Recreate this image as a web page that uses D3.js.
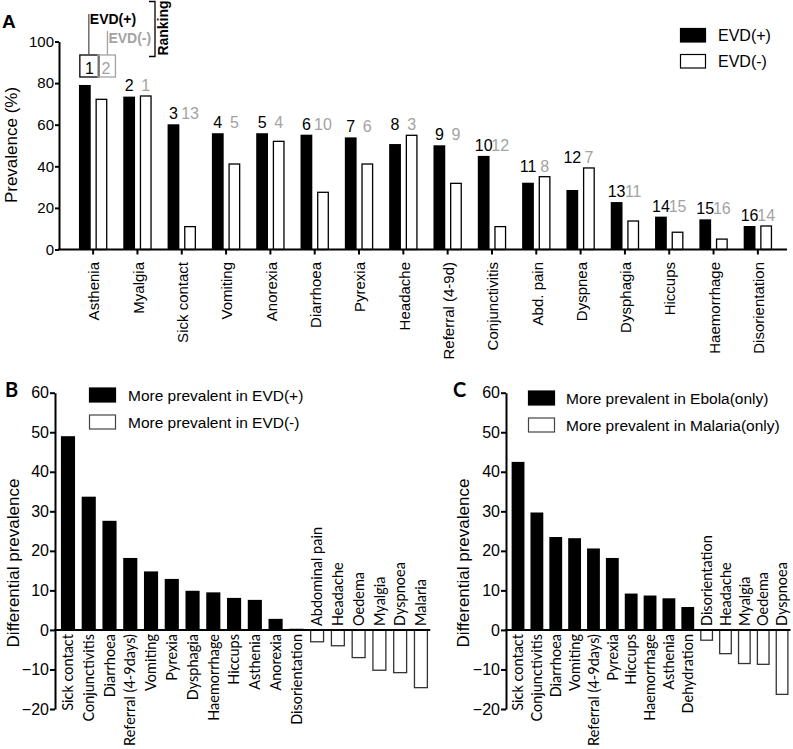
<!DOCTYPE html>
<html><head><meta charset="utf-8">
<script src="https://cdn.jsdelivr.net/npm/d3@7/dist/d3.min.js"></script>
<style>
body{margin:0;background:#fff;}
svg{display:block;}
text{font-family:"Liberation Sans",Arial,sans-serif;}
.cal{font-family:Lato,"Liberation Sans",sans-serif;}
</style></head>
<body><svg id="c" width="793" height="749"></svg>
<script>
// ---------- DATA ----------
const catsA = ["Asthenia","Myalgia","Sick contact","Vomiting","Anorexia","Diarrhoea","Pyrexia","Headache","Referral (4-9d)","Conjunctivitis","Abd. pain","Dyspnea","Dysphagia","Hiccups","Haemorrhage","Disorientation"];
const evdPos = [79.1,73.5,60.2,55.9,55.9,55.2,53.9,50.7,50.1,45.0,32.1,28.6,22.8,15.8,14.5,11.3];
const evdNeg = [72.2,73.8,11.0,41.1,52.0,27.5,41.1,54.9,31.8,11.0,35.0,39.2,13.7,8.3,5.0,11.3];
const rankPos = [1,2,3,4,5,6,7,8,9,10,11,12,13,14,15,16];
const rankNeg = [2,1,13,5,4,10,6,3,9,12,8,7,11,15,16,14];
const seriesA = ["EVD(+)","EVD(-)"];
const yTicksA = [0,20,40,60,80,100];

const catsB = ["Sick contact","Conjunctivitis","Diarrhoea","Referral (4-9days)","Vomiting","Pyrexia","Dysphagia","Haemorrhage","Hiccups","Asthenia","Anorexia","Disorientation","Abdominal pain","Headache","Oedema","Myalgia","Dyspnoea","Malaria"];
const valsB = [49.0,33.7,27.6,18.2,14.8,12.9,9.9,9.5,8.1,7.6,2.8,0.3,-3.0,-4.0,-7.0,-10.2,-10.8,-14.6];
const legendB = ["More prevalent in EVD(+)","More prevalent in EVD(-)"];

const catsC = ["Sick contact","Conjunctivitis","Diarrhoea","Vomiting","Referral (4-9days)","Pyrexia","Hiccups","Haemorrhage","Asthenia","Dehydration","Disorientation","Headache","Myalgia","Oedema","Dyspnoea"];
const valsC = [42.5,29.7,23.5,23.2,20.6,18.2,9.2,8.7,8.0,5.8,-2.6,-6.0,-8.5,-8.7,-16.3];
const legendC = ["More prevalent in Ebola(only)","More prevalent in Malaria(only)"];
const yTicksBC = [-20,-10,0,10,20,30,40,50,60];

// ---------- DRAW ----------
const svg = d3.select("#c");
const GREY = "#a3a3a3";

// ===== Panel A =====
(function(){
  const y = d3.scaleLinear().domain([0,100]).range([249.5,41.5]);
  const x0 = d3.scaleBand().domain(catsA).range([63,788]).padding(0.36);
  const x1 = d3.scaleBand().domain(seriesA).range([0,x0.bandwidth()]).paddingInner(0.29);
  const g = svg.append("g");
  catsA.forEach((c,i)=>{
    [evdPos[i],evdNeg[i]].forEach((v,j)=>{
      g.append("rect")
        .attr("x",x0(c)+x1(seriesA[j])+(j?0.6:0)).attr("y",y(v))
        .attr("width",x1.bandwidth()-(j?1.2:0)).attr("height",y(0)-y(v))
        .attr("fill",j?"#fff":"#000").attr("stroke","#000").attr("stroke-width",j?1.3:0);
    });
  });
  const ya = g.append("g").attr("transform","translate(59,0)")
    .call(d3.axisLeft(y).tickValues(yTicksA).tickSize(4).tickSizeOuter(0).tickPadding(1));
  ya.select(".domain").attr("stroke-width",2);
  ya.selectAll(".tick line").attr("stroke-width",2);
  ya.selectAll("text").attr("font-size",15).attr("font-family","Liberation Sans");
  const xa = g.append("g").attr("transform","translate(0,249.5)")
    .call(d3.axisBottom(x0).tickSize(5).tickSizeOuter(0).tickFormat(""));
  xa.select(".domain").remove();
  xa.selectAll(".tick line").attr("stroke-width",2);
  g.append("line").attr("x1",58).attr("x2",787).attr("y1",249.5).attr("y2",249.5).attr("stroke","#000").attr("stroke-width",2);
  catsA.forEach(c=>{
    g.append("text").attr("transform",`translate(${x0(c)+x0.bandwidth()/2+1},262) rotate(-90)`)
      .attr("text-anchor","end").attr("dy","0.35em").attr("font-size",15).text(c);
  });
  catsA.forEach((c,i)=>{
    const top = y(Math.max(evdPos[i],evdNeg[i]));
    const first = i===0;
    const base = first ? top-11 : top-5;
    const off = first ? 4.5 : 0;
    const cx1 = x0(c)+x1(seriesA[0])+x1.bandwidth()/2+off;
    const cx2 = x0(c)+x1(seriesA[1])+x1.bandwidth()/2+off;
    g.append("text").attr("x",cx1).attr("y",base).attr("text-anchor","middle").attr("font-size",16).attr("fill","#000").text(rankPos[i]);
    g.append("text").attr("x",cx2).attr("y",base).attr("text-anchor","middle").attr("font-size",16).attr("fill",GREY).text(rankNeg[i]);
    if(first){
      g.append("rect").attr("x",cx1-9.5).attr("y",55).attr("width",19).attr("height",22).attr("fill","none").attr("stroke","#000").attr("stroke-width",1.3);
      g.append("rect").attr("x",cx2-8).attr("y",55).attr("width",17.5).attr("height",22).attr("fill","none").attr("stroke",GREY).attr("stroke-width",1.3);
      g.append("line").attr("x1",cx1-0.5).attr("x2",cx1-0.5).attr("y1",55).attr("y2",14).attr("stroke","#555").attr("stroke-width",1.3);
      g.append("line").attr("x1",cx2+1.5).attr("x2",cx2+1.5).attr("y1",55).attr("y2",31).attr("stroke",GREY).attr("stroke-width",1.3);
      g.append("text").attr("x",cx1+0.5).attr("y",24).attr("font-size",14).attr("font-weight","bold").attr("fill","#000").text(seriesA[0]);
      g.append("text").attr("x",cx2+2.5).attr("y",43).attr("font-size",14).attr("font-weight","bold").attr("fill",GREY).text(seriesA[1]);
    }
  });
  g.append("path").attr("d","M149,1.5H155V56.5H149").attr("fill","none").attr("stroke","#000").attr("stroke-width",1.3);
  g.append("text").attr("transform","translate(168,28) rotate(-90)").attr("text-anchor","middle")
    .attr("font-size",14).attr("font-weight","bold").text("Ranking");
  g.append("text").attr("transform","translate(17,145) rotate(-90)").attr("text-anchor","middle")
    .attr("font-size",17).text("Prevalence (%)");
  g.append("text").attr("x",2).attr("y",28).attr("font-size",19).attr("font-weight","bold").text("A");
  seriesA.forEach((s,j)=>{
    g.append("rect").attr("x",680.5).attr("y",28.5+j*26).attr("width",25).attr("height",13.5)
      .attr("fill",j?"#fff":"#000").attr("stroke","#000").attr("stroke-width",1.2);
    g.append("text").attr("x",718).attr("y",41+j*26).attr("font-size",16).text(s);
  });
})();

// ===== Panels B and C =====
function diffPanel(opts){
  const {cats,vals,axisX,range,letter,letterX,ylabelX,legend,legX,legTextX,legY} = opts;
  const y = d3.scaleLinear().domain([-20,60]).range([709,392.7]);
  const x = d3.scaleBand().domain(cats).range(range).paddingInner(0.32).paddingOuter(0.16);
  const g = svg.append("g");
  cats.forEach((c,i)=>{
    const v = vals[i];
    const pos = v>=0;
    g.append("rect").attr("x",x(c)+(pos?0:0.6)).attr("y",pos?y(v):y(0))
      .attr("width",x.bandwidth()-(pos?0:1.2)).attr("height",Math.abs(y(v)-y(0)))
      .attr("fill",pos?"#000":"#fff").attr("stroke",pos?"none":"#333").attr("stroke-width",1.3);
    g.append("text").attr("class","cal")
      .attr("transform",`translate(${x(c)+x.bandwidth()/2},${pos?634:626}) rotate(-90)`)
      .attr("text-anchor",pos?"end":"start").attr("dy","0.36em").attr("font-size",14.5).text(c);
  });
  const ya = g.append("g").attr("transform",`translate(${axisX},0)`)
    .call(d3.axisLeft(y).tickValues(yTicksBC).tickSize(5).tickSizeOuter(0).tickPadding(1));
  ya.select(".domain").attr("stroke-width",2);
  ya.selectAll(".tick line").attr("stroke-width",2);
  ya.selectAll("text").attr("font-size",16).attr("font-family","Liberation Sans");
  g.append("line").attr("x1",axisX-1).attr("x2",range[1]-1).attr("y1",y(0)).attr("y2",y(0)).attr("stroke","#000").attr("stroke-width",2);
  g.append("text").attr("class","cal").attr("x",letterX).attr("y",397).attr("font-size",20).attr("font-weight","bold").text(letter);
  g.append("text").attr("transform",`translate(${ylabelX},563) rotate(-90)`).attr("text-anchor","middle")
    .attr("font-size",17).text("Differential prevalence");
  legend.forEach((s,j)=>{
    g.append("rect").attr("x",legX).attr("y",legY+j*27).attr("width",26).attr("height",14)
      .attr("fill",j?"#fff":"#000").attr("stroke",j?"#444":"#000").attr("stroke-width",1.2);
    g.append("text").attr("x",legTextX).attr("y",legY+12.5+j*27).attr("font-size",15.5).text(s);
  });
}
diffPanel({cats:catsB,vals:valsB,axisX:55,range:[57.6,431.3],letter:"B",letterX:5,ylabelX:19,
  legend:legendB,legX:89.5,legTextX:128,legY:388});
diffPanel({cats:catsC,vals:valsC,axisX:506,range:[508.6,791.5],letter:"C",letterX:453,ylabelX:469,
  legend:legendC,legX:528.5,legTextX:566,legY:391});
</script></body></html>
